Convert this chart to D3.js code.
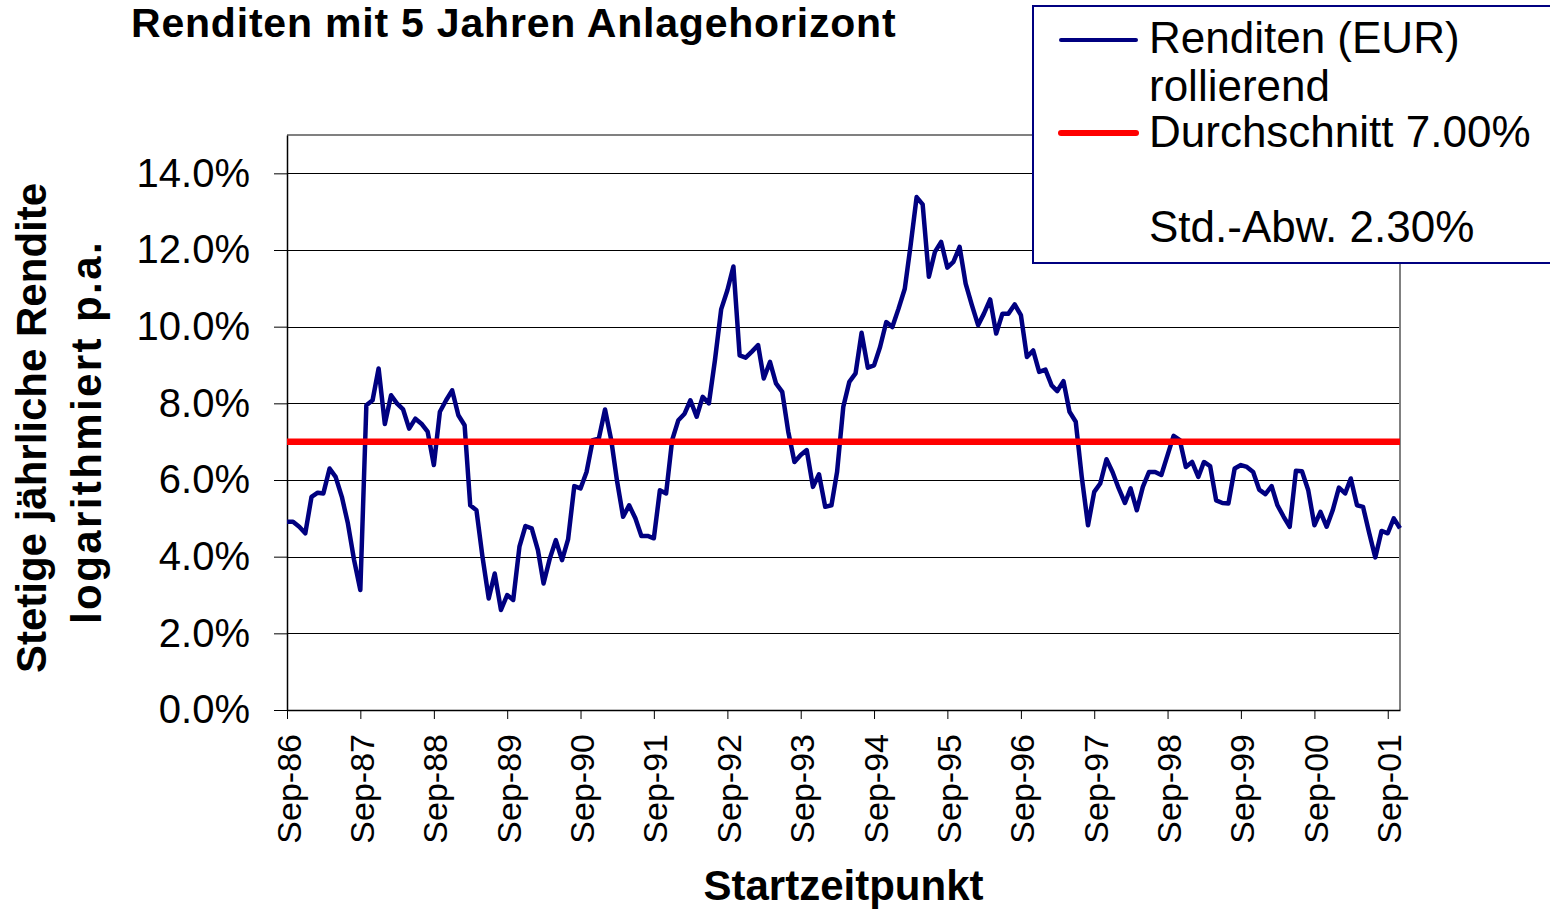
<!DOCTYPE html>
<html>
<head>
<meta charset="utf-8">
<script src="https://cdn.jsdelivr.net/npm/d3@7"></script>
<style>
  body { margin: 0; background: #fff; }
  svg { display: block; font-family: "Liberation Sans", Arial, sans-serif; }
</style>
</head>
<body>
<div id="chart"></div>
<script>
// chart data
const startLabel = "Sep-86";
const tickLabels = ["Sep-86", "Sep-87", "Sep-88", "Sep-89", "Sep-90", "Sep-91", "Sep-92", "Sep-93",
    "Sep-94", "Sep-95", "Sep-96", "Sep-97", "Sep-98", "Sep-99", "Sep-00", "Sep-01"];
const yTicks = [0, 2, 4, 6, 8, 10, 12, 14];
// monthly rolling 5y returns in %, starting Sep-86
const rendite = [
    4.91, 4.91, 4.78, 4.61, 5.56, 5.67, 5.65, 6.30, 6.08, 5.56, 4.87, 3.91,
    3.13, 7.95, 8.08, 8.91, 7.46, 8.21, 8.00, 7.84, 7.34, 7.60, 7.47, 7.26,
    6.39, 7.78, 8.08, 8.34, 7.69, 7.43, 5.34, 5.21, 4.00, 2.91, 3.56, 2.61,
    3.00, 2.87, 4.26, 4.80, 4.74, 4.17, 3.30, 3.95, 4.43, 3.91, 4.45, 5.84,
    5.78, 6.21, 7.04, 7.08, 7.84, 7.04, 6.00, 5.04, 5.34, 5.00, 4.54, 4.54,
    4.48, 5.73, 5.65, 7.04, 7.56, 7.73, 8.08, 7.65, 8.17, 8.00, 9.12, 10.45,
    10.95, 11.57, 9.25, 9.19, 9.35, 9.52, 8.65, 9.08, 8.52, 8.30, 7.26, 6.47,
    6.65, 6.78, 5.82, 6.15, 5.30, 5.34, 6.21, 7.91, 8.56, 8.78, 9.84, 8.93,
    8.99, 9.47, 10.12, 9.99, 10.47, 10.99, 12.08, 13.38, 13.19, 11.30, 11.95, 12.21,
    11.54, 11.69, 12.08, 11.12, 10.56, 10.04, 10.34, 10.71, 9.82, 10.34, 10.34, 10.58,
    10.30, 9.21, 9.38, 8.82, 8.88, 8.47, 8.32, 8.58, 7.78, 7.52, 6.08, 4.82,
    5.69, 5.91, 6.54, 6.21, 5.78, 5.40, 5.78, 5.21, 5.82, 6.21, 6.21, 6.13,
    6.65, 7.15, 7.04, 6.34, 6.47, 6.08, 6.47, 6.36, 5.47, 5.40, 5.39, 6.30,
    6.39, 6.34, 6.21, 5.75, 5.63, 5.84, 5.34, 5.04, 4.78, 6.24, 6.23, 5.74,
    4.82, 5.17, 4.78, 5.21, 5.80, 5.65, 6.04, 5.34, 5.30, 4.61, 3.98, 4.67,
    4.61, 5.00, 4.74
];
const durchschnitt = 7.0;
const legendLines1 = ["Renditen (EUR)", "rollierend"];
const legendLines2 = ["Durchschnitt 7.00%", "", "Std.-Abw. 2.30%"];

const width = 1550;
const height = 909;
const plot = { left: 287, right: 1400, top: 135, bottom: 710 };
const blue = "#000080";
const red = "#ff0000";

const parseMonth = d3.timeParse("%b-%y");
const start = parseMonth(startLabel);
const points = rendite.map((v, i) => ({ date: d3.timeMonth.offset(start, i), value: v }));

let svg = d3.select("#chart")
    .append("svg")
    .attr("width", width)
    .attr("height", height);

//scales
const x = d3.scaleTime()
    .domain([points[0].date, points[points.length - 1].date])
    .range([plot.left, plot.right]);
const y = d3.scaleLinear()
    .domain([0, 15])
    .range([plot.bottom, plot.top]);

//gridlines
svg.append("g")
    .selectAll("line")
    .data(yTicks.filter(d => d > 0))
    .enter()
    .append("line")
    .attr("x1", plot.left)
    .attr("x2", plot.right)
    .attr("y1", d => Math.round(y(d)) + 0.5)
    .attr("y2", d => Math.round(y(d)) + 0.5)
    .attr("stroke", "#000")
    .attr("stroke-width", 1);

//plot frame (top / right in grey)
svg.append("path")
    .attr("d", `M${plot.left},${plot.top}H${plot.right}V${plot.bottom}`)
    .attr("fill", "none")
    .attr("stroke", "#808080")
    .attr("stroke-width", 2);

//y axis
let yAxis = svg.append("g")
    .attr("transform", "translate(" + plot.left + ",0)")
    .call(d3.axisLeft(y)
        .tickValues(yTicks)
        .tickSize(13)
        .tickSizeOuter(0)
        .tickPadding(24)
        .tickFormat(d => d.toFixed(1) + "%"));
yAxis.select(".domain").attr("stroke", "#000").attr("stroke-width", 1.5);
yAxis.selectAll("text")
    .attr("font-size", 40)
    .attr("fill", "#000")
    .attr("font-family", "Liberation Sans, Arial, sans-serif");

//x axis with rotated labels
const tickDates = tickLabels.map(parseMonth);
let xAxis = svg.append("g")
    .attr("transform", "translate(0," + plot.bottom + ")")
    .call(d3.axisBottom(x)
        .tickValues(tickDates)
        .tickSize(9)
        .tickSizeOuter(0)
        .tickFormat(d3.timeFormat("%b-%y")));
xAxis.select(".domain").attr("stroke", "#000").attr("stroke-width", 1.5);
xAxis.selectAll("text")
    .attr("font-size", 34)
    .attr("fill", "#000")
    .attr("font-family", "Liberation Sans, Arial, sans-serif")
    .attr("text-anchor", "end")
    .attr("transform", "rotate(-90)")
    .attr("x", -24)
    .attr("y", 13)
    .attr("dy", 0);

//returns line, average line on top
const line = d3.line()
    .x(d => x(d.date))
    .y(d => y(d.value));

svg.append("path")
    .datum(points)
    .attr("d", line)
    .attr("fill", "none")
    .attr("stroke", blue)
    .attr("stroke-width", 4.5)
    .attr("stroke-linejoin", "round");

svg.append("line")
    .attr("x1", plot.left)
    .attr("x2", plot.right)
    .attr("y1", y(durchschnitt))
    .attr("y2", y(durchschnitt))
    .attr("stroke", red)
    .attr("stroke-width", 6.5);

//titles
svg.append("text")
    .attr("x", 131)
    .attr("y", 37)
    .attr("font-size", 41)
    .attr("font-weight", "bold")
    .attr("letter-spacing", 0.8)
    .text("Renditen mit 5 Jahren Anlagehorizont");

svg.append("text")
    .attr("x", (plot.left + plot.right) / 2)
    .attr("y", 900)
    .attr("text-anchor", "middle")
    .attr("font-size", 42)
    .attr("font-weight", "bold")
    .text("Startzeitpunkt");

svg.append("text")
    .attr("transform", "translate(46,428) rotate(-90)")
    .attr("text-anchor", "middle")
    .attr("font-size", 42)
    .attr("font-weight", "bold")
    .text("Stetige jährliche Rendite");

svg.append("text")
    .attr("transform", "translate(101,432) rotate(-90)")
    .attr("text-anchor", "middle")
    .attr("font-size", 42)
    .attr("font-weight", "bold")
    .attr("letter-spacing", 2.4)
    .text("logarithmiert p.a.");

//legend
let legend = svg.append("g");
legend.append("rect")
    .attr("x", 1033)
    .attr("y", 6)
    .attr("width", 540)
    .attr("height", 257)
    .attr("fill", "#fff")
    .attr("stroke", blue)
    .attr("stroke-width", 2);

legend.append("line")
    .attr("x1", 1061).attr("x2", 1136)
    .attr("y1", 40).attr("y2", 40)
    .attr("stroke", blue)
    .attr("stroke-width", 4)
    .attr("stroke-linecap", "round");
legend.append("line")
    .attr("x1", 1061).attr("x2", 1136)
    .attr("y1", 133).attr("y2", 133)
    .attr("stroke", red)
    .attr("stroke-width", 6)
    .attr("stroke-linecap", "round");

legend.selectAll(".l1")
    .data(legendLines1)
    .enter()
    .append("text")
    .attr("x", 1149)
    .attr("y", (d, i) => 53 + i * 48)
    .attr("font-size", 44)
    .text(d => d);
legend.selectAll(".l2")
    .data(legendLines2)
    .enter()
    .append("text")
    .attr("x", 1149)
    .attr("y", (d, i) => 147 + i * 47.5)
    .attr("font-size", 44)
    .text(d => d);
</script>
</body>
</html>
